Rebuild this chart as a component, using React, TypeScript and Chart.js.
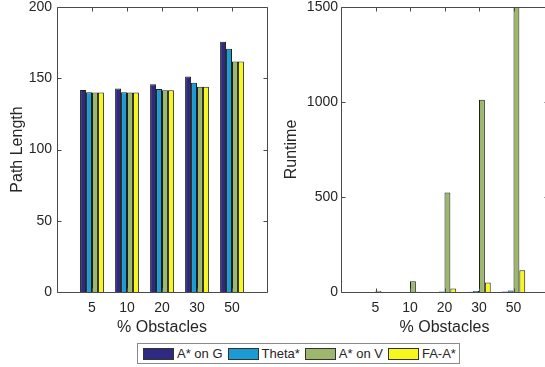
import React, { useEffect, useRef } from "react";
import { Chart, registerables } from "chart.js";

Chart.register(...registerables);

// ---------- data ----------
const categories = ["5", "10", "20", "30", "50"];
const seriesNames = ["A* on G", "Theta*", "A* on V", "FA-A*"];
const seriesColors = ["#2e2a82", "#1b9ad3", "#9bb86c", "#f7f71e"];

const pathAStarG = [141.8, 142.8, 145.8, 151.2, 175.6];
const pathTheta = [140.2, 140.2, 142.5, 146.8, 170.7];
const pathAStarV = [140.0, 140.0, 141.6, 144.0, 161.8];
const pathFAAStar = [140.0, 140.0, 141.6, 144.0, 161.8];

const runAStarG = [0.3, 0.3, 0.5, 1, 2];
const runTheta = [0.5, 0.5, 3, 5, 8];
const runAStarV = [7, 56, 524, 1012, 1500];
const runFAAStar = [0.5, 1, 18, 50, 114];

const pathTicks = { min: 0, max: 200, step: 50 };
const runTicks = { min: 0, max: 1500, step: 500 };

const xTitle = "% Obstacles";
const pathTitle = "Path Length";
const runTitle = "Runtime";

// ---------- helpers ----------
const FONT = "'Liberation Sans', Arial, Helvetica, sans-serif";
const TEXT = "#262626";
const AXIS = "#4a4a4a";

const xLabels = ["", ...categories, ""];
const pad = (arr: number[]) => [null, ...arr, null];

const boxTicksPlugin = {
  id: "boxTicks",
  afterDraw(chart: any) {
    const { ctx, chartArea } = chart;
    const { left, right, top, bottom } = chartArea;
    const xs = chart.scales.x;
    const ys = chart.scales.y;
    const L = 4;
    ctx.save();
    ctx.strokeStyle = AXIS;
    ctx.lineWidth = 1;
    const l = Math.round(left) + 0.5;
    const r = Math.round(right) + 0.5;
    const t = Math.round(top) + 0.5;
    const b = Math.round(bottom) + 0.5;
    ctx.beginPath();
    ctx.moveTo(l, t);
    ctx.lineTo(r, t);
    ctx.lineTo(r, b);
    ctx.lineTo(l, b);
    ctx.closePath();
    ctx.stroke();
    ctx.beginPath();
    ys.ticks.forEach((tk: any) => {
      const y = Math.round(ys.getPixelForValue(tk.value)) + 0.5;
      ctx.moveTo(l, y);
      ctx.lineTo(l + L, y);
      ctx.moveTo(r, y);
      ctx.lineTo(r - L, y);
    });
    for (let i = 1; i <= categories.length; i++) {
      const x = Math.round(xs.getPixelForValue(i)) + 0.5;
      ctx.moveTo(x, b);
      ctx.lineTo(x, b - L);
      ctx.moveTo(x, t);
      ctx.lineTo(x, t + L);
    }
    ctx.stroke();
    ctx.restore();
  },
};

function makeConfig(
  values: number[][],
  ticks: { min: number; max: number; step: number },
  yTitle: string,
  yAxisWidth: number,
  yTitlePad: number,
  yTickPad: number
) {
  return {
    type: "bar" as const,
    data: {
      labels: xLabels,
      datasets: values.map((v, i) => ({
        label: seriesNames[i],
        data: pad(v),
        backgroundColor: seriesColors[i],
        borderColor: "#1e1e1e",
        borderWidth: 1,
        categoryPercentage: 0.68,
        barPercentage: 1,
      })),
    },
    options: {
      responsive: false,
      animation: false,
      events: [],
      layout: { padding: { top: 7, right: 13, left: 0, bottom: 0 } },
      plugins: {
        legend: { display: false },
        tooltip: { enabled: false },
      },
      scales: {
        x: {
          type: "category",
          offset: false,
          grid: { display: false, drawTicks: false },
          border: { display: false },
          ticks: {
            autoSkip: false,
            maxRotation: 0,
            minRotation: 0,
            padding: 8,
            color: TEXT,
            font: { family: FONT, size: 14 },
          },
          title: {
            display: true,
            text: xTitle,
            color: TEXT,
            font: { family: FONT, size: 16 },
            padding: { top: 0, bottom: 0 },
          },
          afterFit(scale: any) {
            scale.height = 45;
            scale.paddingLeft = 0;
            scale.paddingRight = 0;
          },
        },
        y: {
          min: ticks.min,
          max: ticks.max,
          grid: { display: false, drawTicks: false },
          border: { display: false },
          ticks: {
            stepSize: ticks.step,
            padding: yTickPad,
            color: TEXT,
            font: { family: FONT, size: 14 },
            callback: (v: any) => String(v),
          },
          title: {
            display: true,
            text: yTitle,
            color: TEXT,
            font: { family: FONT, size: 16 },
            padding: { top: yTitlePad, bottom: 0 },
          },
          afterFit(scale: any) {
            scale.width = yAxisWidth;
            scale.paddingTop = 0;
            scale.paddingBottom = 0;
          },
        },
      },
    },
    plugins: [boxTicksPlugin],
  };
}

function BarPanel(props: {
  values: number[][];
  ticks: { min: number; max: number; step: number };
  yTitle: string;
  yAxisWidth: number;
  yTitlePad: number;
  yTickPad: number;
  left: number;
  width: number;
}) {
  const ref = useRef<HTMLCanvasElement>(null);
  useEffect(() => {
    if (!ref.current) return;
    const chart = new Chart(
      ref.current,
      makeConfig(
        props.values,
        props.ticks,
        props.yTitle,
        props.yAxisWidth,
        props.yTitlePad,
        props.yTickPad
      ) as any
    );
    return () => chart.destroy();
  }, []);
  return (
    <canvas
      ref={ref}
      width={props.width}
      height={337}
      style={{
        position: "absolute",
        left: props.left,
        top: 0,
        width: props.width,
        height: 337,
      }}
    />
  );
}

function Legend() {
  return (
    <div
      style={{
        position: "absolute",
        left: 137,
        top: 343,
        height: 19,
        border: "1px solid #8a8a8a",
        background: "#fff",
        display: "flex",
        alignItems: "center",
        paddingLeft: 5,
        paddingRight: 0,
        fontFamily: FONT,
        fontSize: 13,
        color: TEXT,
        whiteSpace: "nowrap",
        boxSizing: "content-box",
      }}
    >
      {seriesNames.map((name, i) => (
        <div key={name} style={{ display: "flex", alignItems: "center" }}>
          <span
            style={{
              display: "inline-block",
              width: 29,
              height: 10,
              background: seriesColors[i],
              border: "1px solid #333",
              marginRight: 3,
            }}
          />
          <span style={{ marginRight: i === seriesNames.length - 1 ? 3 : 5 }}>
            {name}
          </span>
        </div>
      ))}
    </div>
  );
}

export default function App() {
  return (
    <div
      style={{
        position: "fixed",
        left: 0,
        top: 0,
        width: 545,
        height: 367,
        overflow: "hidden",
        background: "#fff",
      }}
    >
      <BarPanel
        values={[pathAStarG, pathTheta, pathAStarV, pathFAAStar]}
        ticks={pathTicks}
        yTitle={pathTitle}
        yAxisWidth={57}
        yTitlePad={8}
        yTickPad={5}
        left={0}
        width={280}
      />
      <BarPanel
        values={[runAStarG, runTheta, runAStarV, runFAAStar]}
        ticks={runTicks}
        yTitle={runTitle}
        yAxisWidth={61}
        yTitlePad={2}
        yTickPad={3}
        left={280}
        width={281}
      />
      <Legend />
    </div>
  );
}
